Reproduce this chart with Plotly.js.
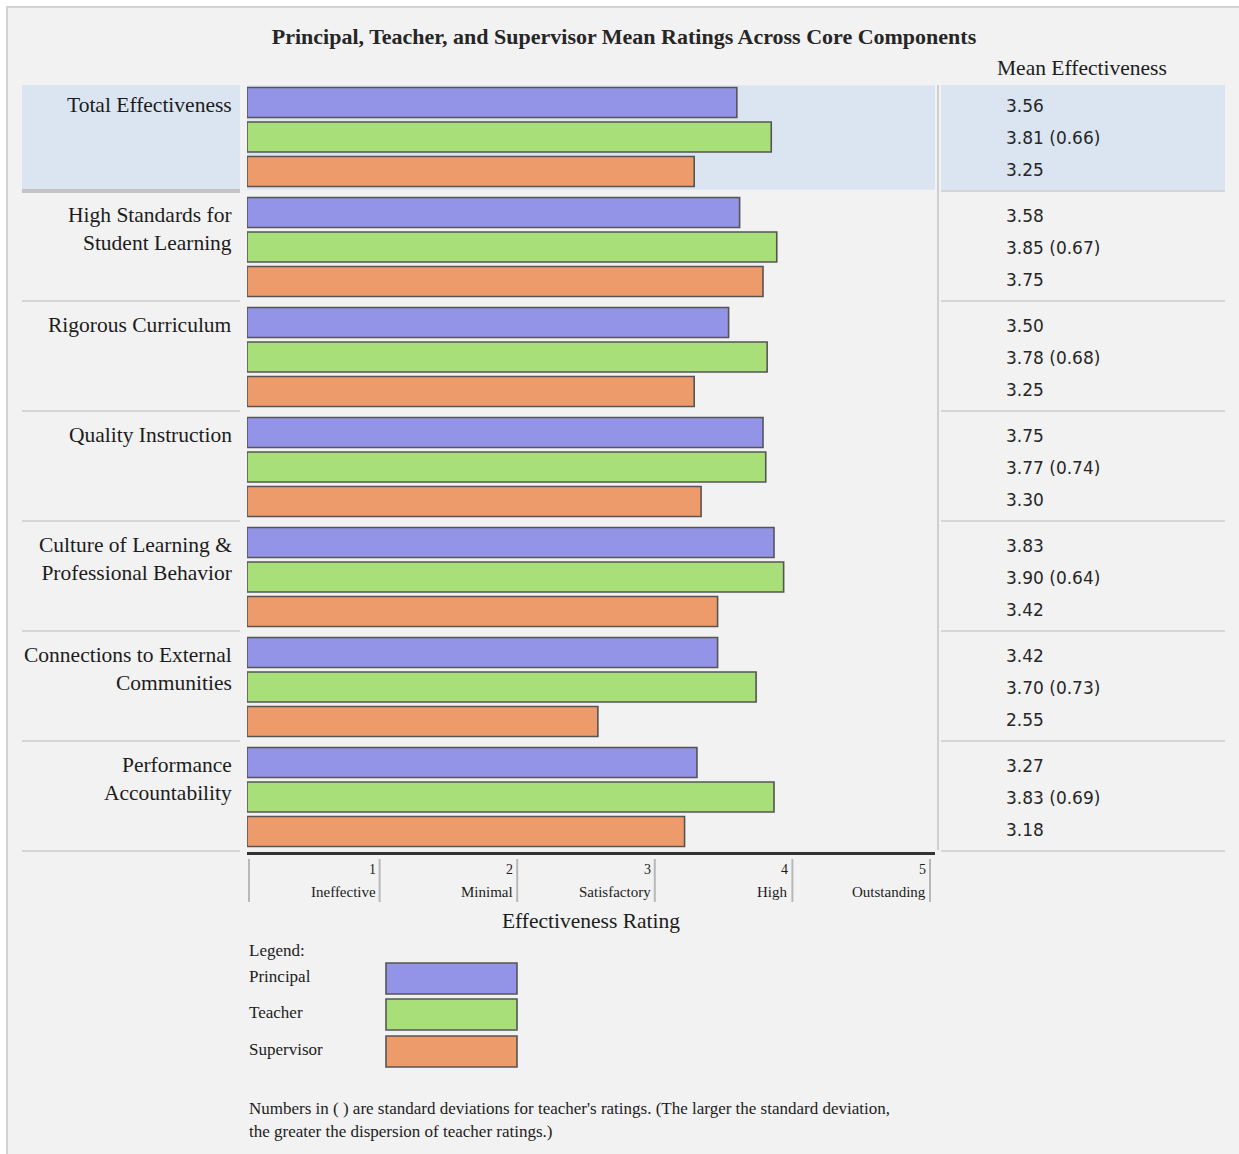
<!DOCTYPE html>
<html>
<head>
<meta charset="utf-8">
<script src="https://cdn.plot.ly/plotly-3.0.1.min.js"></script>
<style>
  html, body { margin: 0; padding: 0; background: #ffffff; }
  #chart { width: 1239px; height: 1154px; }
</style>
</head>
<body>
<div id="chart"></div>
<script>
// Core components (top to bottom) and their two-line display labels
const categories = [
  "Total Effectiveness",
  "High Standards for Student Learning",
  "Rigorous Curriculum",
  "Quality Instruction",
  "Culture of Learning & Professional Behavior",
  "Connections to External Communities",
  "Performance Accountability"
];
const categoryLabels = [
  "Total Effectiveness",
  "High Standards for<br>Student Learning",
  "Rigorous Curriculum",
  "Quality Instruction",
  "Culture of Learning &amp;<br>Professional Behavior",
  "Connections to External<br>Communities",
  "Performance<br>Accountability"
];

// Mean ratings per rater group
const principal  = [3.56, 3.58, 3.50, 3.75, 3.83, 3.42, 3.27];
const teacher    = [3.81, 3.85, 3.78, 3.77, 3.90, 3.70, 3.83];
const teacherSD  = [0.66, 0.67, 0.68, 0.74, 0.64, 0.73, 0.69];
const supervisor = [3.25, 3.75, 3.25, 3.30, 3.42, 2.55, 3.18];

const seriesNames  = ["Principal", "Teacher", "Supervisor"];
const seriesColors = ["#9393e7", "#a8df79", "#ee9b6c"];

// Rating scale
const tickVals  = [1, 2, 3, 4, 5];
const tickNames = ["Ineffective", "Minimal", "Satisfactory", "High", "Outstanding"];

// ---- layout geometry (pixels) ----
const FIG_W = 1239, FIG_H = 1154;
const PL = 247, PT = 82, PW = 688, PH = 770;
const ROW_H = PH / categories.length;
const px = v => (v - PL) / PW;            // pixel x -> paper x
const py = v => (PT + PH - v) / PH;       // pixel y -> paper y

const SERIF = "Liberation Serif, Times New Roman, serif";
const SANS = "DejaVu Sans, Tahoma, sans-serif";
const INK = "#1c1c1c";
const BAND = "#dbe5f1";
const RULE = "#d6d6d6";

const seriesValues = [principal, teacher, supervisor];
const traces = seriesValues.map((vals, k) => ({
  type: "bar",
  orientation: "h",
  name: seriesNames[k],
  y: categories,
  x: vals,
  marker: { color: seriesColors[k], line: { color: "#555555", width: 1.6 } },
  hoverinfo: "x+name",
  showlegend: false
}));

const shapes = [];
const annotations = [];

// page panel
shapes.push({ type: "rect", xref: "paper", yref: "paper", layer: "below",
  x0: px(7), x1: px(1270), y0: py(1180), y1: py(7),
  fillcolor: "#f2f2f2", line: { color: "#d2d2d2", width: 2 } });

// highlighted first row: label cell, plot band, value cell
shapes.push({ type: "rect", xref: "paper", yref: "paper", layer: "below",
  x0: px(22), x1: px(240), y0: py(PT + ROW_H - 2), y1: py(PT + 3),
  fillcolor: BAND, line: { width: 0 } });
shapes.push({ type: "rect", xref: "paper", yref: "paper", layer: "below",
  x0: px(941), x1: px(1225), y0: py(PT + ROW_H - 2), y1: py(PT + 3),
  fillcolor: BAND, line: { width: 0 } });
shapes.push({ type: "rect", xref: "x", yref: "y", layer: "below",
  x0: 0, x1: 5, y0: -0.47, y1: 0.48,
  fillcolor: BAND, line: { width: 0 } });

// row rules in the label and value columns
for (let i = 1; i <= categories.length; i++) {
  const yy = py(PT + ROW_H * i - 1);
  const first = (i === 1);
  shapes.push({ type: "line", xref: "paper", yref: "paper",
    x0: px(22), x1: px(240), y0: yy, y1: yy,
    line: { color: first ? "#c4c4c4" : RULE, width: first ? 4 : 2 } });
  shapes.push({ type: "line", xref: "paper", yref: "paper",
    x0: px(941), x1: px(1225), y0: yy, y1: yy,
    line: { color: RULE, width: 2 } });
}

// divider between plot and value column
shapes.push({ type: "line", xref: "paper", yref: "paper",
  x0: px(938), x1: px(938), y0: py(850), y1: py(85),
  line: { color: "#cfcfcf", width: 2 } });

// tick rules under the axis
shapes.push({ type: "line", xref: "x", xsizemode: "pixel", xanchor: 0, x0: 2, x1: 2,
  yref: "paper", y0: py(902), y1: py(859), line: { color: "#b8b8b8", width: 2 } });
tickVals.forEach((v, j) => {
  shapes.push({ type: "line", xref: "x", xsizemode: "pixel", xanchor: v, x0: -5, x1: -5,
    yref: "paper", y0: py(902), y1: py(859), line: { color: "#b8b8b8", width: 2 } });
  annotations.push({ xref: "x", yref: "paper", x: v, y: py(870), xshift: -7,
    xanchor: "right", yanchor: "middle", showarrow: false,
    text: String(v), font: { family: SERIF, size: 14, color: INK } });
  annotations.push({ xref: "x", yref: "paper", x: v, y: py(892), xshift: -7,
    xanchor: "right", yanchor: "middle", showarrow: false,
    text: tickNames[j], font: { family: SERIF, size: 15, color: INK } });
});

// category labels
categoryLabels.forEach((lab, i) => {
  annotations.push({ xref: "paper", yref: "y", x: px(234), y: i, yshift: 46,
    xanchor: "right", yanchor: "top", align: "right", showarrow: false,
    text: lab, font: { family: SERIF, size: 21.5, color: INK } });
});

// value column
annotations.push({ xref: "paper", yref: "paper", x: px(1082), y: py(68),
  xanchor: "center", yanchor: "middle", showarrow: false,
  text: "Mean Effectiveness", font: { family: SERIF, size: 21.5, color: INK } });
categories.forEach((c, i) => {
  const texts = [
    principal[i].toFixed(2),
    teacher[i].toFixed(2) + " (" + teacherSD[i].toFixed(2) + ")",
    supervisor[i].toFixed(2)
  ];
  const shifts = [31, -1, -33];
  texts.forEach((t, k) => {
    annotations.push({ xref: "paper", yref: "y", x: px(1004), y: i, yshift: shifts[k],
      xanchor: "left", yanchor: "middle", showarrow: false,
      text: t, font: { family: SANS, size: 17, color: "#262626" } });
  });
});

// legend block
annotations.push({ xref: "paper", yref: "paper", x: px(247), y: py(950),
  xanchor: "left", yanchor: "middle", showarrow: false,
  text: "Legend:", font: { family: SERIF, size: 17, color: INK } });
const swatchTop = [963, 999, 1036];
seriesNames.forEach((n, k) => {
  shapes.push({ type: "rect", xref: "paper", yref: "paper",
    x0: px(386), x1: px(517), y0: py(swatchTop[k] + 31), y1: py(swatchTop[k]),
    fillcolor: seriesColors[k], line: { color: "#555555", width: 1.6 } });
  annotations.push({ xref: "paper", yref: "paper", x: px(247), y: py(swatchTop[k] + 13),
    xanchor: "left", yanchor: "middle", showarrow: false,
    text: n, font: { family: SERIF, size: 17, color: INK } });
});

// footnote
annotations.push({ xref: "paper", yref: "paper", x: px(247), y: py(1108),
  xanchor: "left", yanchor: "middle", showarrow: false,
  text: "Numbers in ( ) are standard deviations for teacher's ratings. (The larger the standard deviation,",
  font: { family: SERIF, size: 17, color: INK } });
annotations.push({ xref: "paper", yref: "paper", x: px(247), y: py(1131),
  xanchor: "left", yanchor: "middle", showarrow: false,
  text: "the greater the dispersion of teacher ratings.)",
  font: { family: SERIF, size: 17, color: INK } });

const layout = {
  width: FIG_W, height: FIG_H,
  margin: { l: PL, r: FIG_W - PL - PW, t: PT, b: FIG_H - PT - PH, pad: 0 },
  paper_bgcolor: "#ffffff",
  plot_bgcolor: "#ffffff",
  font: { family: SERIF, color: INK },
  title: {
    text: "Principal, Teacher, and Supervisor Mean Ratings Across Core Components",
    font: { family: SERIF, size: 22, weight: "bold", color: "#262626" },
    x: 624 / FIG_W, xanchor: "center", xref: "container",
    y: 1 - 36 / FIG_H, yanchor: "middle", yref: "container"
  },
  barmode: "group",
  bargap: 0.06,
  bargroupgap: 0.13,
  xaxis: {
    range: [0, 5], showgrid: false, zeroline: false,
    showline: true, linecolor: "#333333", linewidth: 3,
    ticks: "", showticklabels: false, fixedrange: true,
    title: { text: "Effectiveness Rating", font: { family: SERIF, size: 21.5, color: INK }, standoff: 59 }
  },
  yaxis: {
    type: "category", autorange: "reversed",
    showgrid: false, zeroline: false, showline: false,
    ticks: "", showticklabels: false, fixedrange: true
  },
  shapes: shapes,
  annotations: annotations,
  showlegend: false
};

Plotly.newPlot("chart", traces, layout, { displayModeBar: false, staticPlot: true });
</script>
</body>
</html>
